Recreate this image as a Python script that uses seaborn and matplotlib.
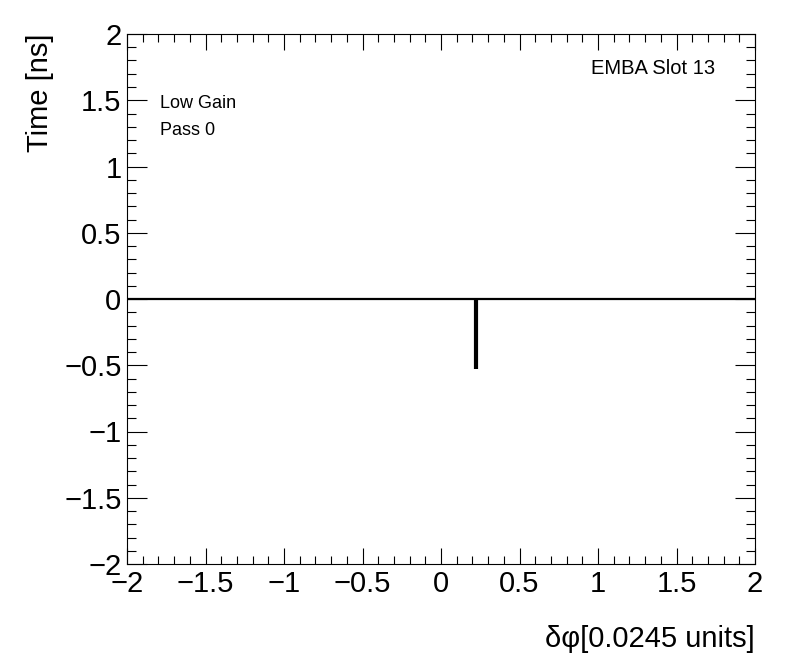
import numpy as np
import pandas as pd
from matplotlib import pyplot as plt
from matplotlib.ticker import MultipleLocator
import seaborn as sns

# data
phi = [0.22]
time_ns = [-0.53]
zero_level = 0.0
x_range = (-2, 2)
y_range = (-2, 2)

df = pd.DataFrame({'phi': phi, 'time': time_ns})

sns.set_style('ticks')
plt.rcParams['font.family'] = ['Liberation Sans', 'DejaVu Sans']
plt.rcParams['text.color'] = 'black'
plt.rcParams['xtick.labelcolor'] = 'black'
plt.rcParams['ytick.labelcolor'] = 'black'
plt.rcParams['axes.labelcolor'] = 'black'

fig = plt.figure(figsize=(7.96, 6.72), dpi=100)
ax = fig.add_axes([127 / 796, 1 - 564 / 672, 628 / 796, 530 / 672])

ax.axhline(zero_level, color='black', linewidth=1.6)
ax.vlines(df['phi'], zero_level, df['time'], color='black', linewidth=3)

ax.set_xlim(*x_range)
ax.set_ylim(*y_range)
ax.xaxis.set_major_locator(MultipleLocator(0.5))
ax.xaxis.set_minor_locator(MultipleLocator(0.1))
ax.yaxis.set_major_locator(MultipleLocator(0.5))
ax.yaxis.set_minor_locator(MultipleLocator(0.1))
fmt = plt.FuncFormatter(lambda v, p: ('%g' % v).replace('-', '\u2212'))
ax.xaxis.set_major_formatter(fmt)
ax.yaxis.set_major_formatter(fmt)

ax.tick_params(axis='both', which='both', direction='in', top=True, right=True,
               width=0.8, color='black', labelsize=21)
ax.tick_params(axis='x', which='major', length=11.5, pad=4)
ax.tick_params(axis='x', which='minor', length=5.8)
ax.tick_params(axis='y', which='major', length=14.4, pad=4)
ax.tick_params(axis='y', which='minor', length=6.5)
for s in ax.spines.values():
    s.set_linewidth(0.8)
    s.set_color('black')

ax.set_xlabel('\u03b4\u03c6[0.0245 units]', fontsize=21, loc='right', labelpad=20)
ax.set_ylabel('Time [ns]', fontsize=21, loc='top', labelpad=7)

ax.text(0.937, 0.935, 'EMBA Slot 13', transform=ax.transAxes, fontsize=14.5,
        ha='right', va='center')
ax.text(0.052, 0.868, 'Low Gain', transform=ax.transAxes, fontsize=13,
        ha='left', va='center')
ax.text(0.052, 0.817, 'Pass 0', transform=ax.transAxes, fontsize=13,
        ha='left', va='center')

fig.savefig('out.png', dpi=100)
plt.close('all')
